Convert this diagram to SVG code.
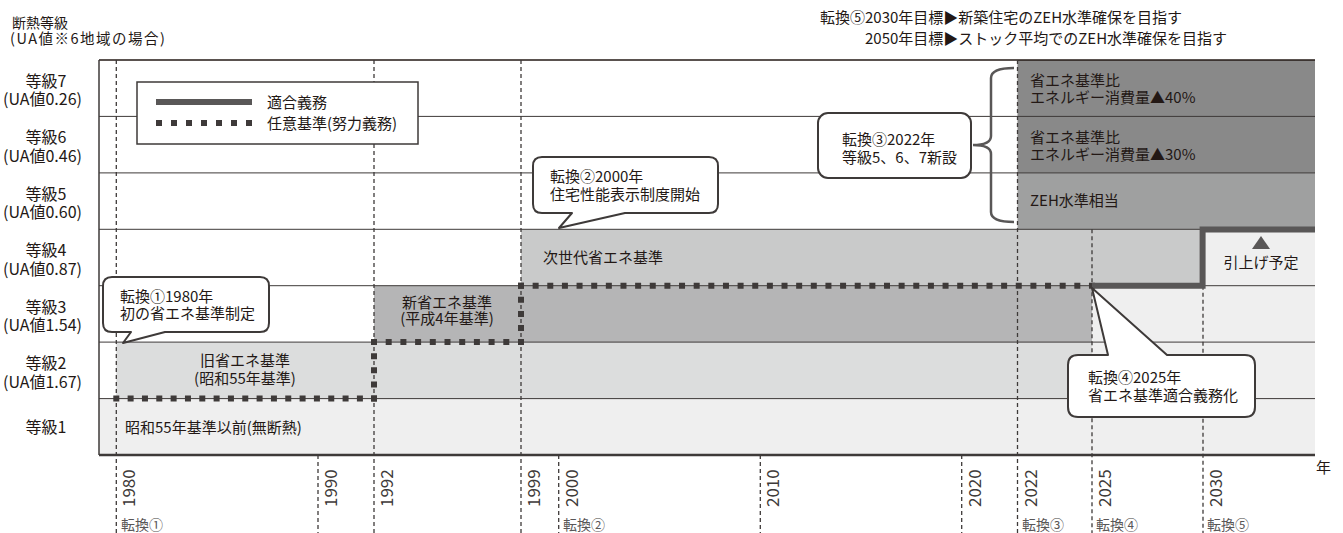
<svg xmlns="http://www.w3.org/2000/svg" width="1343" height="533" viewBox="0 0 1343 533">
<style>
text{font-family:"Noto Sans CJK JP","Noto Sans",sans-serif;fill:#231815;}
.lbl{font-size:15px;}
.rl{font-size:16px;text-anchor:middle;}
.mid{text-anchor:middle;}
.yr{font-size:17px;fill:#3e3a39;}
.tk{font-size:14px;fill:#595757;}
.row{stroke:#3e3a39;stroke-width:1;fill:none;}
.dash{stroke:#3e3a39;stroke-width:1.3;stroke-dasharray:4 3;fill:none;}
.dot{stroke:#3e3a39;stroke-width:6;fill:none;}
.must{stroke:#595757;stroke-width:6;fill:none;stroke-linejoin:miter;}
.bubble{fill:#fff;stroke:#3e3a39;stroke-width:2;stroke-linejoin:round;}
</style>
<rect width="1343" height="533" fill="#fff"/>

<g id="fills">
<rect x="99" y="398.6" width="1216" height="56.4" fill="#efefef"/>
<rect x="116.3" y="342.1" width="975.7" height="56.5" fill="#dcdddd"/>
<rect x="1092" y="342.1" width="223" height="56.5" fill="#efefef"/>
<rect x="374" y="285.7" width="718" height="56.4" fill="#b5b5b6"/>
<rect x="1092" y="285.7" width="223" height="56.4" fill="#efefef"/>
<rect x="521" y="229.3" width="682" height="56.4" fill="#c9caca"/>
<rect x="1203" y="229.3" width="112" height="56.4" fill="#efefef"/>
<rect x="1017.5" y="172.9" width="297.5" height="56.4" fill="#9fa0a0"/>
<rect x="1017.5" y="60" width="297.5" height="112.9" fill="#898989"/>
</g>

<g id="grid">
<line class="row" x1="99" y1="116.4" x2="1315" y2="116.4"/>
<line class="row" x1="99" y1="172.9" x2="1315" y2="172.9"/>
<line class="row" x1="99" y1="229.3" x2="1315" y2="229.3"/>
<line class="row" x1="99" y1="285.7" x2="1315" y2="285.7"/>
<line class="row" x1="99" y1="342.1" x2="1315" y2="342.1"/>
<line class="row" x1="99" y1="398.6" x2="1315" y2="398.6"/>
<line x1="99" y1="60" x2="1315" y2="60" stroke="#231815" stroke-width="1.5"/>
<line x1="99" y1="60" x2="99" y2="455" stroke="#3e3a39" stroke-width="1.5"/>
<line x1="99" y1="455" x2="1315" y2="455" stroke="#3e3a39" stroke-width="2.5"/>
</g>

<g id="year-lines">
<line class="dash" x1="116.3" y1="60" x2="116.3" y2="533"/>
<line class="dash" x1="318" y1="455" x2="318" y2="533"/>
<line class="dash" x1="374" y1="60" x2="374" y2="533"/>
<line class="dash" x1="521" y1="60" x2="521" y2="533"/>
<line class="dash" x1="558.7" y1="455" x2="558.7" y2="533"/>
<line class="dash" x1="760.3" y1="455" x2="760.3" y2="533"/>
<line class="dash" x1="961.7" y1="455" x2="961.7" y2="533"/>
<line class="dash" x1="1017.5" y1="60" x2="1017.5" y2="533"/>
<line class="dash" x1="1092" y1="229.3" x2="1092" y2="533"/>
<line class="dash" x1="1203" y1="285.7" x2="1203" y2="533"/>
</g>

<g id="connectors">
<line class="dot" x1="113.3" y1="398.6" x2="377" y2="398.6" stroke-dasharray="6 8.33"/>
<line class="dot" x1="374" y1="401.6" x2="374" y2="339.1" stroke-dasharray="6 8.13"/>
<line class="dot" x1="371" y1="342.1" x2="524" y2="342.1" stroke-dasharray="6 8.7"/>
<line class="dot" x1="521" y1="345.1" x2="521" y2="282.7" stroke-dasharray="6 8.1"/>
<line class="dot" x1="518" y1="285.7" x2="1095" y2="285.7" stroke-dasharray="6 8.64"/>
<path class="must" d="M1092,285.7 H1202.6 V229.5 H1315"/>
</g>

<g id="legend">
<rect x="137" y="82" width="281" height="62" fill="#fff" stroke="#3e3a39" stroke-width="1.5"/>
<line x1="156" y1="102" x2="252" y2="102" stroke="#595757" stroke-width="6"/>
<line x1="156" y1="123" x2="252" y2="123" stroke="#3e3a39" stroke-width="6" stroke-dasharray="6 9"/>
<text class="lbl" x="267" y="108">適合義務</text>
<text class="lbl" x="267" y="129">任意基準(努力義務)</text>
</g>

<g id="title">
<text x="12" y="28" font-size="14">断熱等級</text>
<text x="10" y="43.5" font-size="14.5" textLength="155" lengthAdjust="spacing">(UA値※6地域の場合)</text>
<text class="lbl" x="820" y="22.5">転換⑤2030年目標▶新築住宅のZEH水準確保を目指す</text>
<text class="lbl" x="865" y="44">2050年目標▶ストック平均でのZEH水準確保を目指す</text>
</g>

<g id="row-labels">
<text class="rl" x="46" y="86.5">等級7</text>
<text class="rl" x="42.5" y="105">(UA値0.26)</text>
<text class="rl" x="46" y="143">等級6</text>
<text class="rl" x="42.5" y="161.5">(UA値0.46)</text>
<text class="rl" x="46" y="199.5">等級5</text>
<text class="rl" x="42.5" y="218">(UA値0.60)</text>
<text class="rl" x="46" y="256">等級4</text>
<text class="rl" x="42.5" y="274.5">(UA値0.87)</text>
<text class="rl" x="46" y="312.5">等級3</text>
<text class="rl" x="42.5" y="331">(UA値1.54)</text>
<text class="rl" x="46" y="369">等級2</text>
<text class="rl" x="42.5" y="387.5">(UA値1.67)</text>
<text class="rl" x="46" y="432.5">等級1</text>
</g>

<g id="zone-labels">
<text class="lbl" x="125" y="433">昭和55年基準以前(無断熱)</text>
<text class="lbl mid" x="245" y="366">旧省エネ基準</text>
<text class="lbl mid" x="245" y="384">(昭和55年基準)</text>
<text class="lbl mid" x="447" y="308">新省エネ基準</text>
<text class="lbl mid" x="447" y="324">(平成4年基準)</text>
<text class="lbl" x="543" y="263">次世代省エネ基準</text>
<text class="lbl" x="1030" y="206">ZEH水準相当</text>
<text class="lbl" x="1030" y="86">省エネ基準比</text>
<text class="lbl" x="1030" y="103">エネルギー消費量▲40%</text>
<text class="lbl" x="1030" y="142.5">省エネ基準比</text>
<text class="lbl" x="1030" y="159.5">エネルギー消費量▲30%</text>
<polygon points="1252,249 1270,249 1261,236" fill="#595757"/>
<text class="lbl mid" x="1261" y="268">引上げ予定</text>
</g>

<g id="callout1">
<path class="bubble" d="M112,277 H260 Q269,277 269,286 V323 Q269,332 260,332 H165 L123,343 L131,332 H112 Q103,332 103,323 V286 Q103,277 112,277 Z"/>
<text class="lbl" x="120" y="302">転換①1980年</text>
<text class="lbl" x="120" y="319">初の省エネ基準制定</text>
</g>

<g id="callout2">
<path class="bubble" d="M542,157 H709 Q718,157 718,166 V204 Q718,213 709,213 H625 L559,228 L572,213 H542 Q533,213 533,204 V166 Q533,157 542,157 Z"/>
<text class="lbl" x="550" y="182">転換②2000年</text>
<text class="lbl" x="550" y="200">住宅性能表示制度開始</text>
</g>

<g id="callout3">
<rect class="bubble" x="818" y="113" width="153" height="65" rx="10"/>
<text class="lbl" x="842" y="145">転換③2022年</text>
<text class="lbl" x="842" y="163">等級5、6、7新設</text>
<path d="M1014,68 Q991,68 991,78 V136 Q991,145 973,145 Q991,145 991,154 V212 Q991,222 1014,222" fill="none" stroke="#595757" stroke-width="2.5"/>
</g>

<g id="callout4">
<path class="bubble" d="M1078,355 H1108 L1092,288 L1167,355 H1245 Q1255,355 1255,365 V407 Q1255,417 1245,417 H1078 Q1068,417 1068,407 V365 Q1068,355 1078,355 Z"/>
<text class="lbl" x="1088" y="383">転換④2025年</text>
<text class="lbl" x="1088" y="401">省エネ基準適合義務化</text>
</g>

<g id="axis-labels">
<text class="lbl" x="1316" y="473">年</text>
<text class="yr" transform="translate(135.3,507) rotate(-90)">1980</text>
<text class="yr" transform="translate(337,507) rotate(-90)">1990</text>
<text class="yr" transform="translate(393,507) rotate(-90)">1992</text>
<text class="yr" transform="translate(540,507) rotate(-90)">1999</text>
<text class="yr" transform="translate(577.7,507) rotate(-90)">2000</text>
<text class="yr" transform="translate(779.3,507) rotate(-90)">2010</text>
<text class="yr" transform="translate(980.7,507) rotate(-90)">2020</text>
<text class="yr" transform="translate(1036.5,507) rotate(-90)">2022</text>
<text class="yr" transform="translate(1111,507) rotate(-90)">2025</text>
<text class="yr" transform="translate(1222,507) rotate(-90)">2030</text>
<text class="tk" x="121" y="530">転換①</text>
<text class="tk" x="563" y="530">転換②</text>
<text class="tk" x="1022" y="530">転換③</text>
<text class="tk" x="1096" y="530">転換④</text>
<text class="tk" x="1207" y="530">転換⑤</text>
</g>
</svg>
